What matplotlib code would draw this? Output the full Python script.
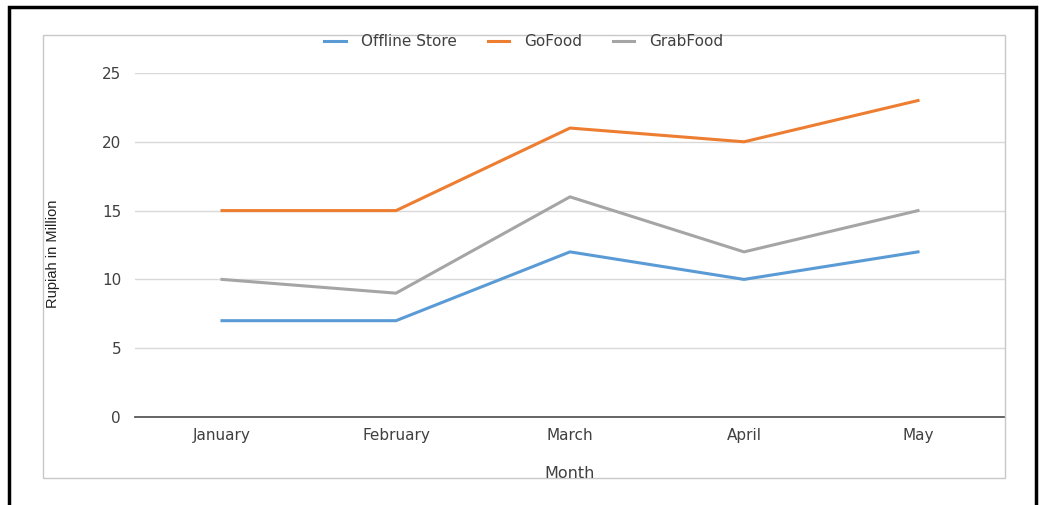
import matplotlib
matplotlib.use("Agg")
from matplotlib import pyplot as plt
from matplotlib.patches import Rectangle

months = ["January", "February", "March", "April", "May"]
offline_store = [7, 7, 12, 10, 12]
gofood = [15, 15, 21, 20, 23]
grabfood = [10, 9, 16, 12, 15]

plt.rcParams['font.family'] = ['DejaVu Sans']

W, H = 1039, 505
fig = plt.figure(figsize=(W / 100, H / 100), dpi=100)

def px(x0, y0, x1, y1):
	# pixel box -> figure coords
	return [x0 / W, 1 - y1 / H, (x1 - x0) / W, (y1 - y0) / H]

# outer black frame and inner grey chart box
fig.patches.append(Rectangle((9 / W, 1 - 515 / H), 1027 / W, 508 / H, transform=fig.transFigure,
	fill=False, edgecolor='black', linewidth=2.5))
fig.patches.append(Rectangle((43 / W, 1 - 478 / H), 962 / W, 443 / H, transform=fig.transFigure,
	fill=False, edgecolor='#c8c8c8', linewidth=1))

ax = fig.add_axes(px(135, 73, 1005, 417))
x = range(len(months))
ax.plot(x, offline_store, color='#5B9BD5', lw=2.2, label='Offline Store')
ax.plot(x, gofood, color='#ED7D31', lw=2.2, label='GoFood')
ax.plot(x, grabfood, color='#A5A5A5', lw=2.2, label='GrabFood')

ax.set_xlim(-0.5, len(months) - 0.5)
ax.set_ylim(0, 25)
ax.set_yticks([0, 5, 10, 15, 20, 25])
ax.set_xticks(list(x))
ax.set_xticklabels(months)
ax.grid(axis='y', color='#d9d9d9', lw=1)
ax.set_axisbelow(True)
for s in ['top', 'right', 'left']:
	ax.spines[s].set_visible(False)
ax.spines['bottom'].set_color('#595959')
ax.spines['bottom'].set_linewidth(1.3)
ax.tick_params(axis='both', length=0, labelsize=11, labelcolor='#404040')
ax.tick_params(axis='y', pad=10)
ax.tick_params(axis='x', pad=8)

fig.text(570 / W, 1 - 473 / H, 'Month', ha='center', va='center', fontsize=11.5, color='#404040')
fig.text(53 / W, 1 - 254 / H, 'Rupiah in Million', ha='center', va='center', rotation=90,
	fontsize=10.5, color='#202020', family=['Liberation Sans Narrow', 'Liberation Sans', 'DejaVu Sans'])

fig.legend(loc='center', bbox_to_anchor=(524 / W, 1 - 42 / H), ncol=3, frameon=False,
	fontsize=11, handlelength=1.4, columnspacing=2.0, handletextpad=1.0, labelcolor='#404040')

fig.savefig('out.png', dpi=100)
